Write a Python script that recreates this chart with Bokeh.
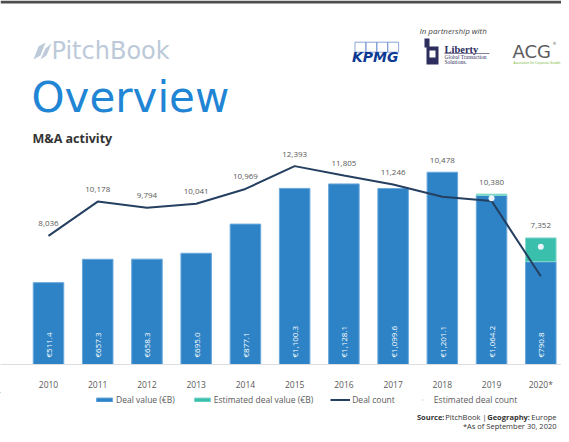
import math
from bokeh.plotting import figure
from bokeh.layouts import column
from bokeh.models import (Range1d, ColumnDataSource, FixedTicker, Legend, LegendItem)
from bokeh.core.properties import value
from bokeh.embed import file_html
from bokeh.resources import INLINE

# ---------------- data ----------------
years = ["2010", "2011", "2012", "2013", "2014", "2015", "2016", "2017", "2018", "2019", "2020*"]
deal_value_total = [511.4, 657.3, 658.3, 695.0, 877.1, 1100.3, 1128.1, 1099.6, 1201.1, 1064.2, 790.8]
deal_value_reported = [511.4, 657.3, 658.3, 695.0, 877.1, 1100.3, 1128.1, 1099.6, 1201.1, 1056.0, 642.5]
deal_count = [8036, 10178, 9794, 10041, 10969, 12393, 11805, 11246, 10478, 10220, 5510]
est_deal_count = [None, None, None, None, None, None, None, None, None, 10380, 7352]
legend_labels = ["Deal value (€B)", "Estimated deal value (€B)", "Deal count", "Estimated deal count"]

BLUE = "#2e83c6"
BLUE_EDGE = "#6aa8dc"
TEAL = "#3bbfad"
TEAL_EDGE = "#85d8cd"
NAVY = "#243f60"
DOT = "#eaf4fa"
LEG_DOT = "#d6eaf3"
GRAY = "#595959"
FONT = "Open Sans"

W = 561
HDR_H = 148
FRAME_H = 222
CHART_BOTTOM = 22
FTR_TOP = HDR_H + FRAME_H + CHART_BOTTOM
FTR_BOT = 442

idx = list(range(len(years)))
est_part = [t - r for t, r in zip(deal_value_total, deal_value_reported)]
count_shown = [e if e is not None else c for c, e in zip(deal_count, est_deal_count)]
count_label_y = [max(cs, t * 10) for cs, t in zip(count_shown, deal_value_total)]


def blank(height, y0, y1):
    f = figure(width=W, height=height, x_range=Range1d(0, W), y_range=Range1d(y1, y0),
               x_axis_location=None, y_axis_location=None, toolbar_location=None,
               output_backend="svg", min_border=0, outline_line_color=None)
    f.grid.visible = False
    return f


# ---------------- header ----------------
hdr = blank(HDR_H, 0, HDR_H)
hdr.quad(left=[0], right=[W], top=[0], bottom=[3], fill_color="#4d4d4d", line_color=None)
# PitchBook leaf
hdr.patches(xs=[[33, 38, 45, 40], [40, 45, 51, 46]],
            ys=[[59, 46, 42, 55], [59, 48, 43, 55]], fill_color="#bccad9", line_color=None)
hdr.text(x=[51], y=[50.5], text=["PitchBook"], text_font=value("DejaVu Sans"),
         text_font_size="24px", text_color="#bccad9", text_baseline="middle")
hdr.text(x=[31], y=[97], text=["Overview"], text_font=value("DejaVu Sans"),
         text_font_size="42px", text_color="#2185d5", text_baseline="middle")
hdr.text(x=[32], y=[137.5], text=["M&A activity"], text_font=value(FONT),
         text_font_size="12.5px", text_font_style="bold", text_color="#333333",
         text_baseline="middle")
hdr.text(x=[419], y=[29.5], text=["In partnership with"], text_font=value(FONT),
         text_font_size="8px", text_font_style="italic", text_color="#444444",
         text_baseline="middle")
# KPMG
hdr.quad(left=[354.5, 365.4, 376.3, 387.2], right=[365.4, 376.3, 387.2, 398.1],
         top=[41.7] * 4, bottom=[51.7] * 4, fill_color=None, line_color="#6f8fcf", line_width=0.8)
hdr.text(x=[351.5], y=[56.5], text=["KPMG"], text_font=value("DejaVu Sans"),
         text_font_size="14px", text_font_style="bold italic", text_color="#0b3a94",
         text_baseline="middle")
# Liberty
hdr.quad(left=[426], right=[438], top=[46], bottom=[64], fill_color="#2d2e5e", line_color=None)
hdr.quad(left=[424], right=[429], top=[38], bottom=[47], fill_color="#2d2e5e", line_color=None)
hdr.quad(left=[429], right=[435], top=[50], bottom=[57], fill_color="#ffffff", line_color=None)
hdr.text(x=[444], y=[48.5], text=["Liberty"], text_font=value("Liberation Serif"),
         text_font_size="10.5px", text_font_style="bold", text_color="#2d2e5e",
         text_baseline="middle")
hdr.segment(x0=[444], y0=[53], x1=[489], y1=[53], line_color="#2d2e5e", line_width=0.6)
hdr.text(x=[444, 444], y=[56.7, 61.7], text=["Global Transaction", "Solutions."],
         text_font=value("Liberation Serif"), text_font_size="5.5px",
         text_color="#2d2e5e", text_baseline="middle")
# ACG
hdr.text(x=[512], y=[50.5], text=["ACG"], text_font=value("DejaVu Sans"),
         text_font_size="18px", text_color="#5c5c5c", text_baseline="middle")
hdr.text(x=[552], y=[43], text=["®"], text_font=value("DejaVu Sans"),
         text_font_size="4px", text_color="#5c5c5c", text_baseline="middle")
hdr.text(x=[513], y=[62.7], text=["Association for Corporate Growth"], text_font=value(FONT),
         text_font_size="3px", text_color="#6ab023", text_baseline="middle")

# ---------------- chart ----------------
spacing = 49.23
first_x = 48
p = figure(width=W, height=FRAME_H + CHART_BOTTOM,
           x_range=Range1d((0 - first_x) / spacing, (W - first_x) / spacing),
           y_range=Range1d(0, 1349.5), y_axis_location=None,
           toolbar_location=None, output_backend="svg",
           min_border=0, min_border_bottom=CHART_BOTTOM, outline_line_color=None)
p.extra_y_ranges = {"count": Range1d(0, 13495)}
p.grid.visible = False

src = ColumnDataSource(dict(
    x=idx, rep=deal_value_reported, tot=deal_value_total,
    cnt=deal_count, lab_y=count_label_y,
    cnt_lab=[f"{c:,}" for c in count_shown],
    val_lab=[f"€{v:,.1f}" for v in deal_value_total],
))

p.vbar(x="x", width=0.62, bottom=0, top="rep", source=src,
       fill_color=BLUE, line_color=BLUE_EDGE, line_width=1)
est_idx = [i for i, e in enumerate(est_part) if e > 0]
est_src = ColumnDataSource(dict(
    x=est_idx, b=[deal_value_reported[i] for i in est_idx],
    t=[deal_value_total[i] for i in est_idx]))
p.vbar(x="x", width=0.62, bottom="b", top="t", source=est_src,
       fill_color=TEAL, line_color=TEAL_EDGE, line_width=1)

p.line(x="x", y="cnt", source=src, y_range_name="count", line_color=NAVY, line_width=2)
ec_idx = [i for i, e in enumerate(est_deal_count) if e is not None]
ec_src = ColumnDataSource(dict(x=ec_idx, y=[est_deal_count[i] for i in ec_idx]))
p.scatter(x="x", y="y", source=ec_src, y_range_name="count", size=6,
          fill_color=DOT, line_color=None)

p.text(x="x", y="lab_y", text="cnt_lab", source=src, y_range_name="count",
       text_font=value(FONT), text_font_size="8px", text_color=GRAY,
       text_align="center", text_baseline="middle", y_offset=-12)
p.text(x="x", y=0, text="val_lab", source=src, angle=math.pi / 2,
       text_font=value(FONT), text_font_size="8px", text_color="#ffffff",
       text_align="left", text_baseline="middle", y_offset=-7)

ax = p.xaxis[0]
ax.ticker = FixedTicker(ticks=idx)
ax.major_label_overrides = {i: y for i, y in enumerate(years)}
ax.major_tick_line_color = None
ax.minor_tick_line_color = None
ax.axis_line_color = "#dcdde3"
ax.major_label_standoff = 8
ax.major_label_text_font = FONT
ax.major_label_text_font_size = "8.5px"
ax.major_label_text_color = GRAY

# ---------------- footer with legend ----------------
ftr = blank(FTR_BOT - FTR_TOP, FTR_TOP, FTR_BOT)
off = [-1000]
r1 = ftr.vbar(x=off, top=off, width=1, fill_color=BLUE, line_color=BLUE_EDGE)
r2 = ftr.vbar(x=off, top=off, width=1, fill_color=TEAL, line_color=TEAL_EDGE)
r3 = ftr.line(x=off * 2, y=off * 2, line_color=NAVY, line_width=2)
r4 = ftr.scatter(x=off, y=off, size=5, fill_color=LEG_DOT, line_color=None)
legend = Legend(items=[LegendItem(label=l, renderers=[r]) for l, r in
                       zip(legend_labels, [r1, r2, r3, r4])],
                orientation="horizontal", location=(94, FTR_BOT - 405))
legend.glyph_width = 20
legend.glyph_height = 5
legend.label_standoff = 2
legend.spacing = 17
legend.padding = 0
legend.margin = 0
legend.border_line_color = None
legend.background_fill_color = None
legend.label_text_font = FONT
legend.label_text_font_size = "8.5px"
legend.label_text_color = GRAY
legend.label_height = 10
ftr.add_layout(legend, "center")

ftr.text(x=[444, 529.5], y=[416.7, 416.7], text=["Source:", "Geography:"],
         text_font=value(FONT), text_font_size="7.5px", text_font_style="bold",
         text_color="#333333", text_align="right", text_baseline="middle")
ftr.text(x=[486, 556], y=[416.7, 416.7], text=["PitchBook |", "Europe"],
         text_font=value(FONT), text_font_size="7.5px", text_color="#333333",
         text_align="right", text_baseline="middle")
ftr.text(x=[556], y=[425.7], text=["*As of September 30, 2020"],
         text_font=value(FONT), text_font_size="7.5px", text_color="#333333",
         text_align="right", text_baseline="middle")

layout = column(hdr, p, ftr, spacing=0)
open("out.html", "w").write(file_html(layout, INLINE))
